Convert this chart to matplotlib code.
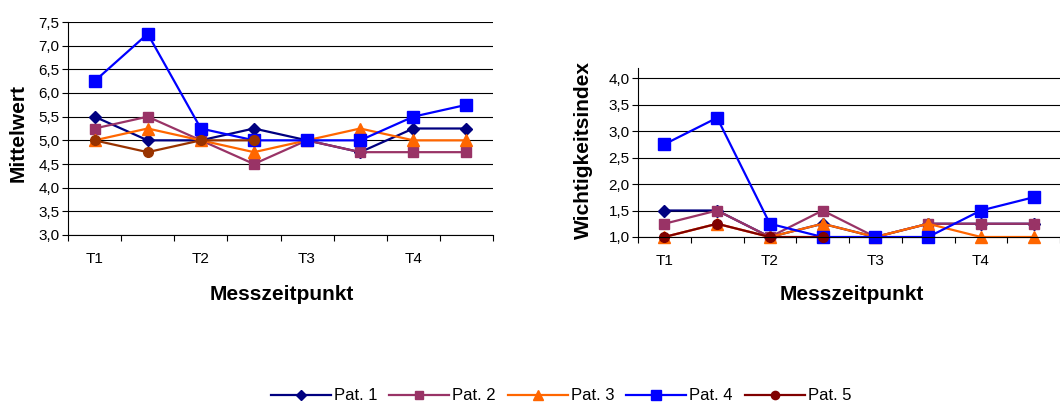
import matplotlib
matplotlib.use("Agg")
import matplotlib.pyplot as plt
from matplotlib.ticker import FuncFormatter
from matplotlib.lines import Line2D
import numpy as np

plt.rcParams['font.family'] = ['Liberation Sans', 'DejaVu Sans']

categories = ["T1", "", "T2", "", "T3", "", "T4", ""]
series_names = ["Pat. 1", "Pat. 2", "Pat. 3", "Pat. 4", "Pat. 5"]

# Left chart: Mittelwert
left_p1 = [5.5, 5.0, 5.0, 5.25, 5.0, 4.75, 5.25, 5.25]
left_p2 = [5.25, 5.5, 5.0, 4.5, 5.0, 4.75, 4.75, 4.75]
left_p3 = [5.0, 5.25, 5.0, 4.75, 5.0, 5.25, 5.0, 5.0]
left_p4 = [6.25, 7.25, 5.25, 5.0, 5.0, 5.0, 5.5, 5.75]
left_p5 = [5.0, 4.75, 5.0, 5.0, None, None, None, None]

# Right chart: Wichtigkeitsindex
right_p1 = [1.5, 1.5, 1.0, 1.25, 1.0, 1.25, 1.25, 1.25]
right_p2 = [1.25, 1.5, 1.0, 1.5, 1.0, 1.25, 1.25, 1.25]
right_p3 = [1.0, 1.25, 1.0, 1.25, 1.0, 1.25, 1.0, 1.0]
right_p4 = [2.75, 3.25, 1.25, 1.0, 1.0, 1.0, 1.5, 1.75]
right_p5 = [1.0, 1.25, 1.0, 1.0, None, None, None, None]

colors = ["#000080", "#993366", "#FF6600", "#0000FF", "#800000"]
left_p5_color = "#993300"
markers = ["D", "s", "^", "s", "o"]
msizes = [6, 7.5, 8, 8, 7]

W, H = 1060, 403
fig = plt.figure(figsize=(W / 100, H / 100), dpi=100)

def axes_px(x0, y0, x1, y1):
    return fig.add_axes([x0 / W, 1 - y1 / H, (x1 - x0) / W, (y1 - y0) / H])

ax1 = axes_px(68, 22, 493, 235)
ax2 = axes_px(638, 68, 1060, 237)

fmt = FuncFormatter(lambda v, p: f"{v:.1f}".replace(".", ","))

def setup(ax, ylim, yticks):
    ax.set_xlim(-0.5, len(categories) - 0.5)
    ax.set_ylim(*ylim)
    ax.set_yticks(yticks)
    ax.yaxis.set_major_formatter(fmt)
    for s in ["top", "right"]:
        ax.spines[s].set_visible(False)
    for s in ["left", "bottom"]:
        ax.spines[s].set_color("#000000")
        ax.spines[s].set_linewidth(0.8)
    ax.set_xticks(np.arange(len(categories) + 1) - 0.5)
    ax.set_xticklabels([])
    ax.set_xticks([i for i, c in enumerate(categories) if c], minor=True)
    ax.set_xticklabels([c for c in categories if c], minor=True)
    ax.tick_params(axis="x", which="major", length=4, direction="out", color="black")
    ax.tick_params(axis="x", which="minor", length=0, pad=12, labelsize=11)
    ax.tick_params(axis="y", length=4, direction="out", labelsize=11, pad=2)
    ax.yaxis.grid(True, color="#000000", linewidth=0.8)
    ax.set_axisbelow(True)

x = np.arange(len(categories))

def plot_series(ax, data, cols):
    for d, c, m, ms, name in zip(data, cols, markers, msizes, series_names):
        y = np.array([np.nan if v is None else v for v in d], dtype=float)
        ax.plot(x, y, color=c, marker=m, markersize=ms, linewidth=1.6,
                markeredgecolor=c, markerfacecolor=c, label=name, clip_on=False)

setup(ax1, (3.0, 7.5), np.arange(3.0, 7.51, 0.5))
plot_series(ax1, [left_p1, left_p2, left_p3, left_p4, left_p5],
            colors[:4] + [left_p5_color])
ax1.set_ylabel("Mittelwert", fontsize=15, fontweight="bold")
ax1.yaxis.set_label_coords(-0.094, 0.48)
ax1.set_xlabel("Messzeitpunkt", fontsize=15, fontweight="bold")
ax1.xaxis.set_label_coords(0.503, -0.235)

setup(ax2, (1.0, 4.19), np.arange(1.0, 4.01, 0.5))
plot_series(ax2, [right_p1, right_p2, right_p3, right_p4, right_p5], colors)
ax2.set_ylabel("Wichtigkeitsindex", fontsize=15, fontweight="bold")
ax2.yaxis.set_label_coords(-0.107, 0.515)
ax2.set_xlabel("Messzeitpunkt", fontsize=15, fontweight="bold")
ax2.xaxis.set_label_coords(0.507, -0.284)

leg_handles = [Line2D([0], [0], color=c, marker=m, markersize=ms * 0.85, linewidth=1.6)
               for c, m, ms in zip(colors, markers, msizes)]
fig.legend(leg_handles, series_names, loc="center", ncol=5,
           bbox_to_anchor=(561 / W, 1 - 396 / H), frameon=False, fontsize=12,
           handlelength=3.6, columnspacing=0.7, handletextpad=0.2)

fig.savefig("out.png", dpi=100)
